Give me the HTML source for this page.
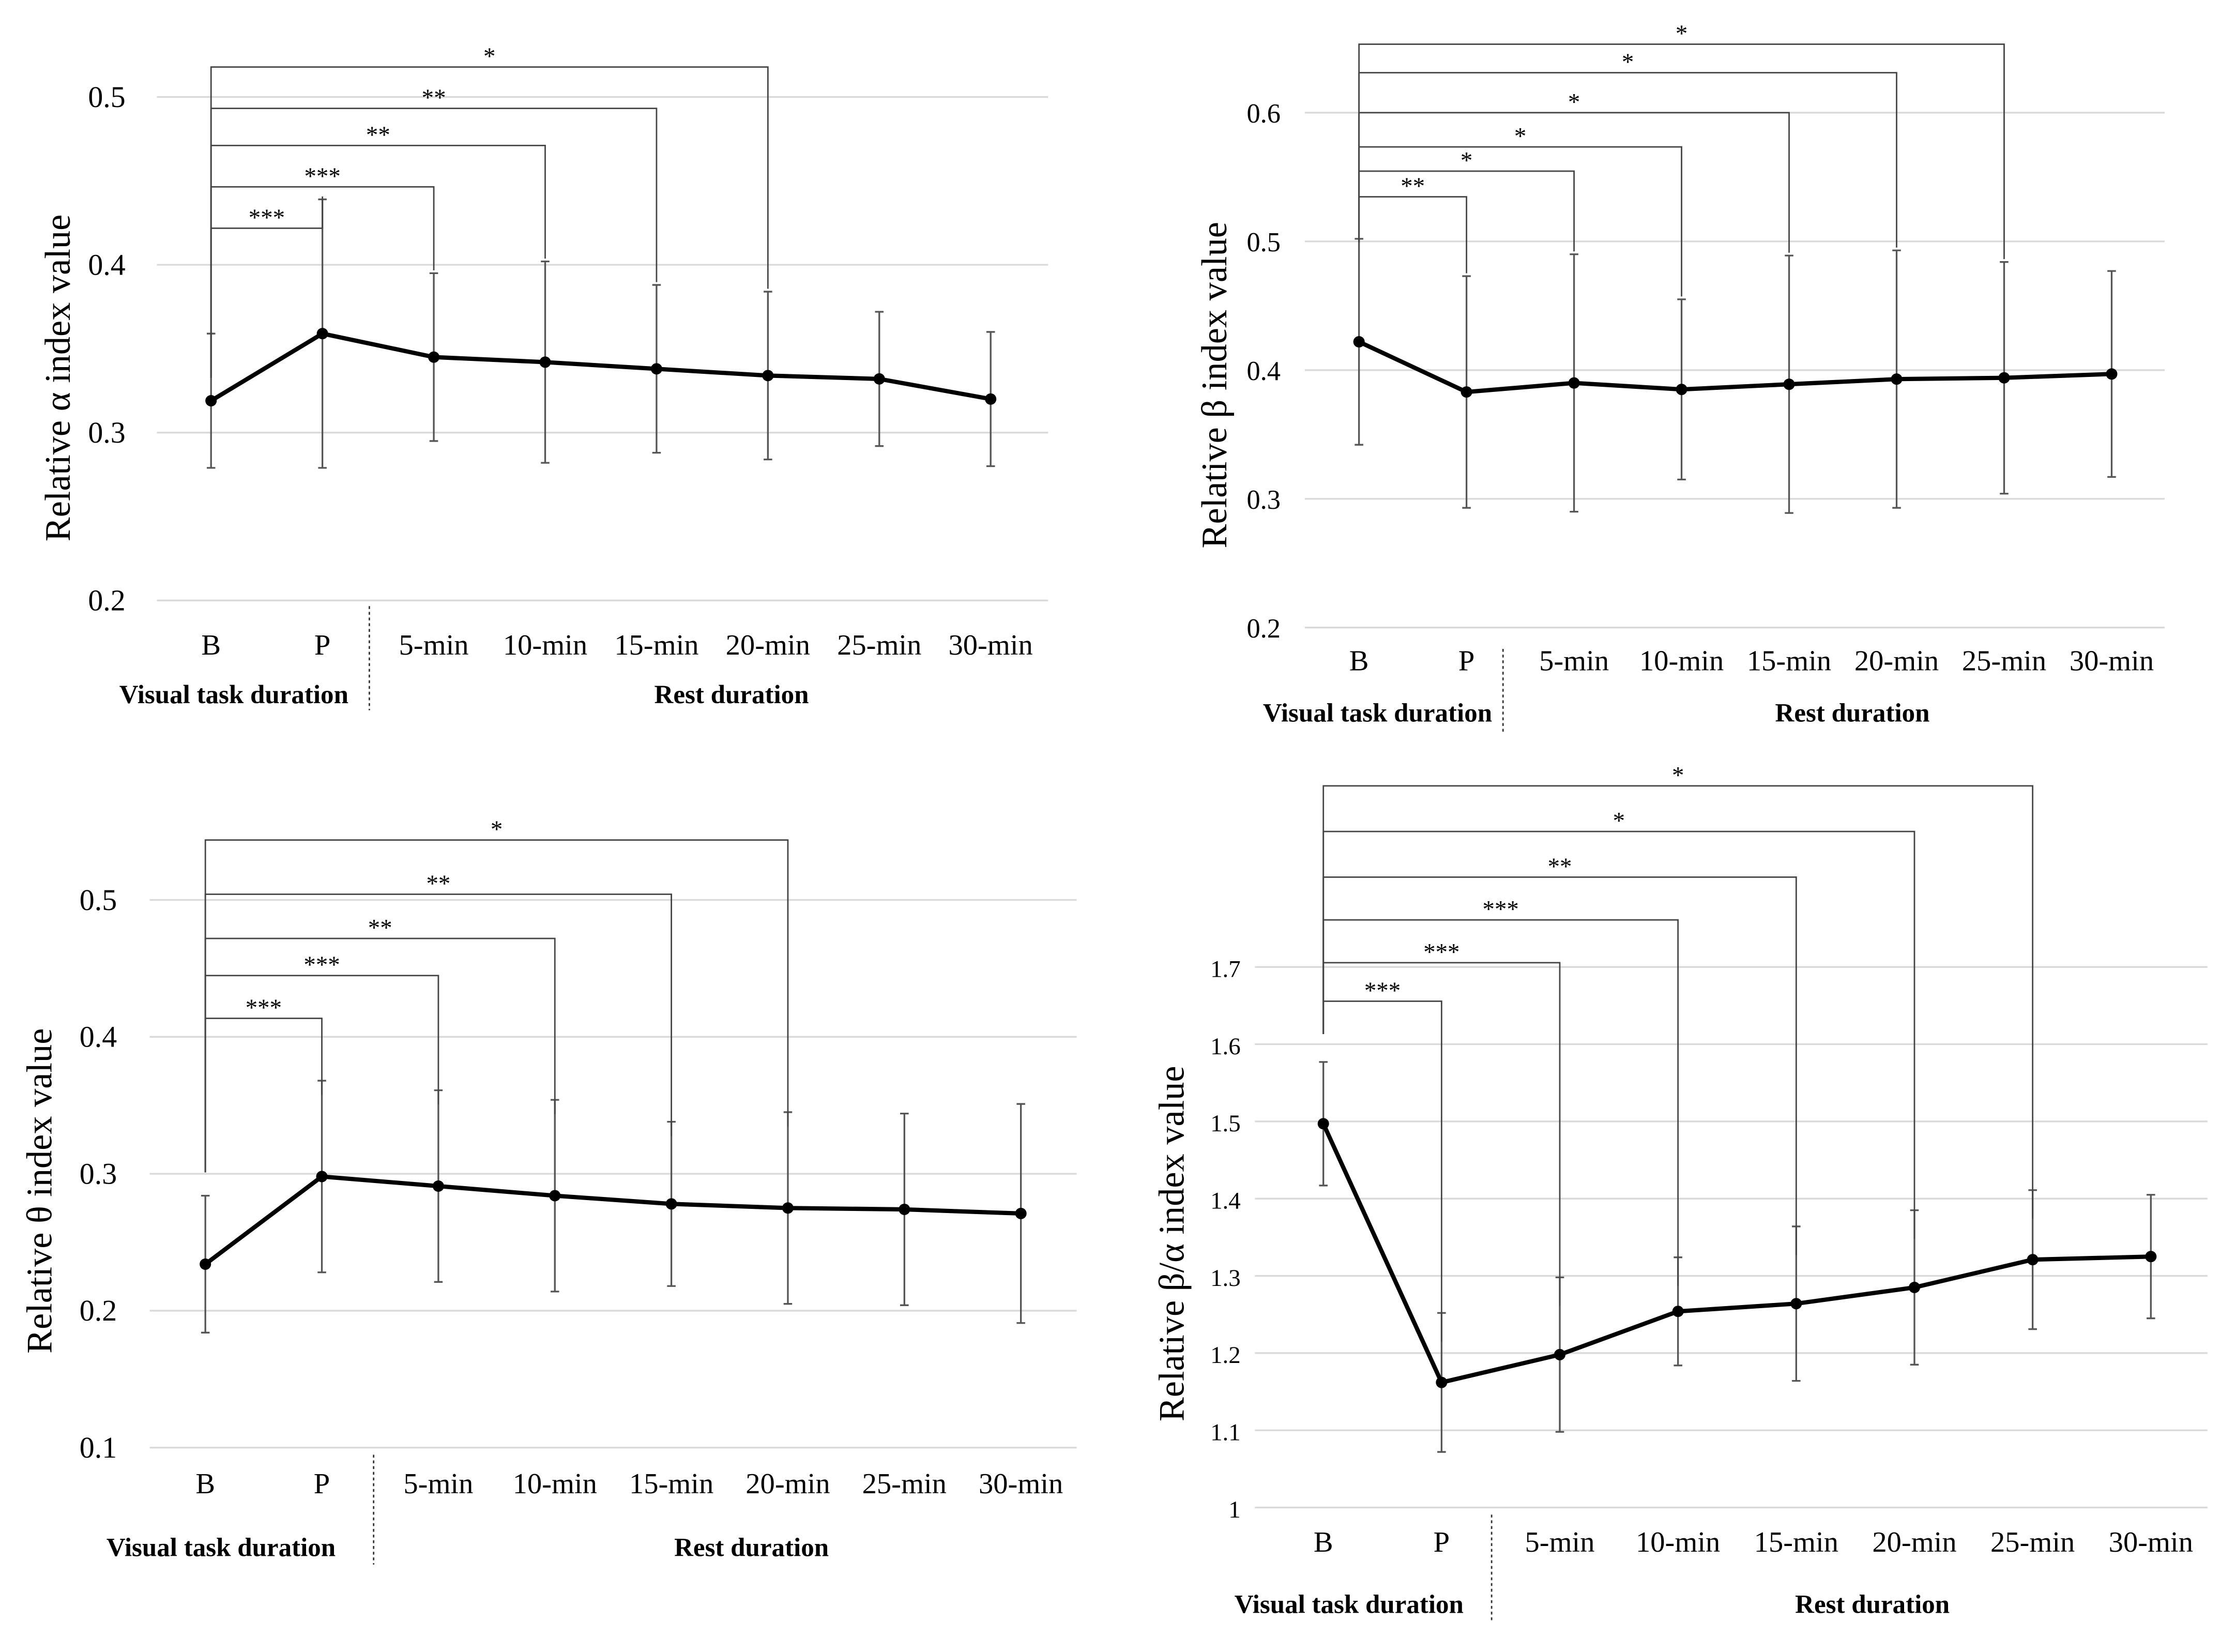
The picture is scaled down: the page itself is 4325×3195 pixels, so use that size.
<!DOCTYPE html>
<html><head><meta charset="utf-8"><style>
html,body{margin:0;padding:0;background:#fff;}
svg{display:block;}
text{font-family:"Liberation Serif",serif;fill:#000;}
</style></head><body>
<svg id="fig" width="4325" height="3195" viewBox="0 0 1568 1158.3" preserveAspectRatio="none" xmlns="http://www.w3.org/2000/svg"></svg>
<script>
const categories = ["B","P","5-min","10-min","15-min","20-min","25-min","30-min"];
// Panel A: alpha
const alphaVals = [0.319,0.359,0.345,0.342,0.338,0.334,0.332,0.320];
const alphaErr  = [0.040,0.080,0.050,0.060,0.050,0.050,0.040,0.040];
const alphaTicks = [0.2,0.3,0.4,0.5];
const alphaSig = ["***","***","**","**","*"];
// Panel B: beta
const betaVals = [0.422,0.383,0.390,0.385,0.389,0.393,0.394,0.397];
const betaErr  = [0.080,0.090,0.100,0.070,0.100,0.100,0.090,0.080];
const betaTicks = [0.2,0.3,0.4,0.5,0.6];
const betaSig = ["**","*","*","*","*","*"];
// Panel C: theta
const thetaVals = [0.234,0.298,0.291,0.284,0.278,0.275,0.274,0.271];
const thetaErr  = [0.050,0.070,0.070,0.070,0.060,0.070,0.070,0.080];
const thetaTicks = [0.1,0.2,0.3,0.4,0.5];
const thetaSig = ["***","***","**","**","*"];
// Panel D: beta/alpha
const ratioVals = [1.497,1.162,1.198,1.254,1.264,1.285,1.321,1.325];
const ratioErr  = [0.080,0.090,0.100,0.070,0.100,0.100,0.090,0.080];
const ratioTicks = [1,1.1,1.2,1.3,1.4,1.5,1.6,1.7];
const ratioTickLabels = ["1","1.1","1.2","1.3","1.4","1.5","1.6","1.7"];
const ratioSig = ["***","***","***","**","*","*"];

const NS="http://www.w3.org/2000/svg";
const svg=document.getElementById('fig');
function mk(tag,attrs,parent,txt){const e=document.createElementNS(NS,tag);for(const k in attrs)e.setAttribute(k,attrs[k]);if(txt!==undefined)e.textContent=txt;(parent||svg).appendChild(e);return e;}

function panel(cfg){
  const g=mk('g',{},svg);
  
  
  const y=v=>cfg.y0+(v-cfg.v0)*(cfg.y1-cfg.y0)/(cfg.v1-cfg.v0);
  const x=i=>cfg.x0+i*cfg.dx;
  cfg.ticks.forEach((t,i)=>{
    const l=mk('line',{x1:cfg.gx0,x2:cfg.gx1,y1:y(t),y2:y(t),stroke:'#d9d9d9','stroke-width':1.2},g);
    
    
    const tx=mk('text',{x:cfg.tickX,y:y(t)+7,'text-anchor':'end','font-size':cfg.tfs},g,cfg.tickLabels?cfg.tickLabels[i]:t.toFixed(1));
    
    
  });
  categories.forEach((c,i)=>{
    const t=mk('text',{x:x(i),y:cfg.labY,'text-anchor':'middle','font-size':20.5},g,c);
    
    
  });
  const t1=mk('text',{x:cfg.vtX,y:cfg.grpY,'text-anchor':'middle','font-size':18.5,'font-weight':'bold'},g,'Visual task duration');
  
  
  const t2=mk('text',{x:cfg.rdX,y:cfg.grpY,'text-anchor':'middle','font-size':18.5,'font-weight':'bold'},g,'Rest duration');
  
  
  const sep=mk('line',{x1:cfg.sepX,x2:cfg.sepX,y1:cfg.sepY0,y2:cfg.sepY1,stroke:'#333','stroke-width':1,'stroke-dasharray':'2,2'},g);
  
  
  const yt=mk('text',{x:0,y:0,'text-anchor':'middle','font-size':25.5,transform:`translate(${cfg.ytX},${cfg.ytY}) rotate(-90)`},g,cfg.title);
  
  
  cfg.vals.forEach((v,i)=>{
    const e=cfg.err[i];
    const eb=mk('path',{d:`M${x(i)},${y(v+e)}V${y(v-e)}M${x(i)-3},${y(v+e)}h6M${x(i)-3},${y(v-e)}h6`,stroke:'#555','stroke-width':1.2,fill:'none'},g);
    
    
  });
  cfg.sig.forEach((s,k)=>{
    const ti=k+1, by=cfg.bY[k];
    const bottom=y(cfg.vals[ti]+cfg.err[ti])+cfg.gap;
    const p=mk('path',{d:`M${x(0)},${cfg.leftBottom}V${by}H${x(ti)}V${bottom}`,stroke:'#444','stroke-width':1,fill:'none'},g);
    
    
    const st=mk('text',{x:(x(0)+x(ti))/2,y:by-2,'text-anchor':'middle','font-size':17},g,s);
    
    
  });
  const line=mk('polyline',{points:cfg.vals.map((v,i)=>x(i)+','+y(v)).join(' '),fill:'none',stroke:'#000','stroke-width':3},g);
  
  
  cfg.vals.forEach((v,i)=>{
    const c=mk('circle',{cx:x(i),cy:y(v),r:4,fill:'#000'},g);
    
    
  });
}

panel({name:'alpha-panel',vals:alphaVals,err:alphaErr,ticks:alphaTicks,sig:alphaSig,
  v0:0.2,v1:0.5,y0:421,y1:68,x0:148,dx:78.1,gx0:110,gx1:735,tickX:88,tfs:21,labY:459,grpY:493,
  vtX:164,rdX:513,sepX:259,sepY0:425,sepY1:498,ytX:49,ytY:265,title:'Relative α index value',
  bY:[160,131,102,76,47],leftBottom:265,gap:-2});
panel({name:'beta-panel',vals:betaVals,err:betaErr,ticks:betaTicks,sig:betaSig,
  v0:0.2,v1:0.6,y0:440,y1:79,x0:953,dx:75.4,gx0:915,gx1:1518,tickX:898,tfs:19,labY:470,grpY:506,
  vtX:966,rdX:1299,sepX:1054,sepY0:455,sepY1:515,ytX:860,ytY:270,title:'Relative β index value',
  bY:[138,120,103,79,51,31],leftBottom:170,gap:-2});
panel({name:'theta-panel',vals:thetaVals,err:thetaErr,ticks:thetaTicks,sig:thetaSig,
  v0:0.1,v1:0.5,y0:1015,y1:631,x0:144,dx:81.7,gx0:105,gx1:755,tickX:82,tfs:21,labY:1047,grpY:1091,
  vtX:155,rdX:527,sepX:262,sepY0:1020,sepY1:1097,ytX:36,ytY:835,title:'Relative θ index value',
  bY:[714,684,658,627,589],leftBottom:822,gap:10});
panel({name:'beta-alpha-panel',vals:ratioVals,err:ratioErr,ticks:ratioTicks,tickLabels:ratioTickLabels,sig:ratioSig,
  v0:1,v1:1.7,y0:1057,y1:678,x0:928,dx:82.9,gx0:880,gx1:1548,tickX:870,tfs:17,labY:1088,grpY:1131,
  vtX:946,rdX:1313,sepX:1046,sepY0:1062,sepY1:1137,ytX:830,ytY:872,title:'Relative β/α index value',
  bY:[702,675,645,615,583,551],leftBottom:725,gap:20});
</script>
</body></html>
